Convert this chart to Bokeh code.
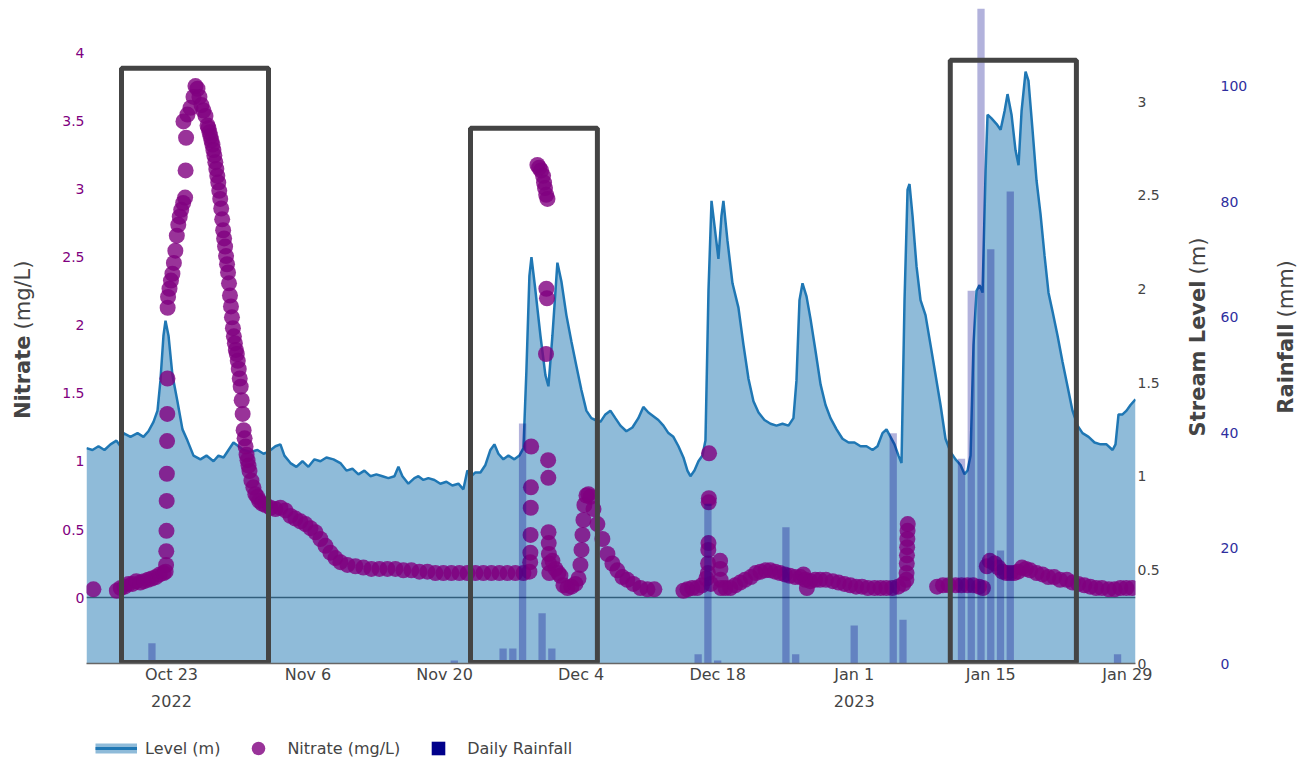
import pandas as pd
from bokeh.plotting import figure
from bokeh.layouts import column
from bokeh.models import (Range1d, LinearAxis, FixedTicker, Span, Legend,
                          LegendItem, Label, ColumnDataSource)
from bokeh.embed import file_html
from bokeh.resources import INLINE

FONT = "DejaVu Sans"
T0 = pd.Timestamp("2022-10-14")          # day 0 of the day-offset arrays
DAY_MS = 86400000.0

# ---------------- data ----------------
# stream level, days since T0 / metres
level_day = [0.29, 0.90, 1.52, 2.13, 2.75, 3.36, 3.77, 4.08, 4.80, 5.52,
             6.13, 6.64, 7.16, 7.57, 7.87, 8.18, 8.39, 8.70, 9.10, 9.61,
             10.13, 10.64, 11.26, 11.97, 12.59, 13.31, 13.82, 14.34, 14.85, 15.36,
             15.87, 16.39, 17.10, 17.82, 18.44, 18.94, 19.66, 20.17, 20.58, 21.20,
             21.81, 22.43, 23.04, 23.66, 24.27, 24.89, 25.61, 26.32, 26.94, 27.55,
             28.17, 28.78, 29.40, 30.01, 30.63, 31.24, 31.86, 32.27, 32.68, 33.29,
             33.91, 34.32, 34.83, 35.34, 35.96, 36.57, 37.19, 37.80, 38.42, 38.93,
             39.34, 39.75, 40.16, 40.68, 41.19, 41.70, 42.11, 42.52, 43.03, 43.55,
             44.16, 44.67, 45.09, 45.39, 45.70, 45.91, 46.32, 46.83, 47.34, 47.65,
             48.06, 48.57, 48.98, 49.49, 50.00, 50.51, 51.03, 51.54, 52.05, 52.46,
             52.98, 53.49, 54.00, 54.51, 55.03, 55.64, 56.26, 56.87, 57.38, 57.90,
             58.41, 58.92, 59.44, 59.95, 60.46, 60.98, 61.49, 61.90, 62.21, 62.62,
             63.03, 63.44, 63.75, 64.06, 64.37, 64.67, 65.08, 65.39, 65.59, 66.00,
             66.52, 67.13, 67.65, 68.16, 68.67, 69.19, 69.80, 70.42, 71.03, 71.65,
             72.26, 72.77, 73.08, 73.39, 73.70, 74.11, 74.52, 75.03, 75.55, 76.06,
             76.57, 77.19, 77.80, 78.42, 79.03, 79.65, 80.26, 80.88, 81.39, 81.90,
             82.31, 82.72, 83.13, 83.54, 83.85, 84.16, 84.47, 84.67, 84.98, 85.39,
             85.80, 86.31, 86.83, 87.34, 87.85, 88.36, 88.87, 89.39, 89.90, 90.31,
             90.62, 90.93, 91.23, 91.54, 91.85, 92.16, 92.47, 92.67, 93.08, 93.60,
             94.01, 94.42, 94.72, 95.13, 95.54, 95.85, 96.16, 96.57, 96.87, 97.28,
             97.69, 98.10, 98.51, 98.92, 99.33, 99.85, 100.36, 100.87, 101.38, 101.90,
             102.41, 103.03, 103.64, 104.26, 104.87, 105.49, 105.79, 106.10, 106.51, 106.92,
             107.33, 107.84]
level_m = [1.15, 1.14, 1.16, 1.14, 1.17, 1.19, 1.16, 1.23, 1.21, 1.23,
           1.21, 1.24, 1.29, 1.35, 1.51, 1.75, 1.83, 1.75, 1.54, 1.40,
           1.25, 1.19, 1.11, 1.09, 1.11, 1.08, 1.11, 1.10, 1.14, 1.18,
           1.16, 1.14, 1.13, 1.14, 1.12, 1.13, 1.16, 1.17, 1.11, 1.07,
           1.05, 1.08, 1.05, 1.09, 1.08, 1.10, 1.09, 1.07, 1.03, 1.04,
           1.01, 1.03, 1.00, 1.01, 1.00, 0.99, 1.00, 1.05, 1.00, 0.96,
           0.99, 1.00, 0.98, 0.99, 0.98, 0.96, 0.97, 0.95, 0.96, 0.93,
           1.03, 1.00, 1.02, 1.02, 1.06, 1.14, 1.17, 1.12, 1.09, 1.11,
           1.09, 1.11, 1.15, 1.56, 2.07, 2.17, 1.99, 1.75, 1.54, 1.48,
           1.75, 2.14, 2.04, 1.86, 1.72, 1.59, 1.46, 1.35, 1.31, 1.30,
           1.29, 1.33, 1.35, 1.31, 1.27, 1.24, 1.26, 1.31, 1.37, 1.34,
           1.32, 1.30, 1.27, 1.23, 1.21, 1.16, 1.10, 1.03, 1.00, 1.03,
           1.08, 1.11, 1.19, 1.99, 2.47, 2.34, 2.16, 2.39, 2.47, 2.26,
           2.03, 1.90, 1.70, 1.52, 1.40, 1.34, 1.30, 1.28, 1.27, 1.28,
           1.27, 1.31, 1.51, 1.94, 2.03, 1.96, 1.84, 1.67, 1.49, 1.38,
           1.31, 1.25, 1.20, 1.18, 1.18, 1.16, 1.16, 1.14, 1.16, 1.23,
           1.25, 1.21, 1.17, 1.11, 1.07, 1.94, 2.53, 2.56, 2.39, 2.12,
           1.94, 1.86, 1.70, 1.54, 1.38, 1.20, 1.13, 1.09, 1.06, 1.01,
           1.03, 1.11, 1.70, 1.99, 2.02, 1.98, 2.63, 2.93, 2.91, 2.88,
           2.85, 2.95, 3.04, 2.93, 2.74, 2.66, 2.95, 3.16, 3.11, 2.85,
           2.58, 2.40, 2.18, 1.98, 1.88, 1.75, 1.61, 1.48, 1.35, 1.27,
           1.23, 1.21, 1.18, 1.17, 1.17, 1.14, 1.17, 1.33, 1.33, 1.35,
           1.38, 1.41]

# nitrate, days since T0 / mg/L
nitrate_day = [
    1.00,
    3.40, 3.80, 4.20, 4.60, 5.00, 5.40, 5.80, 6.20, 6.60, 7.00, 7.40, 7.80, 8.20, 8.40,
    8.45, 8.47, 8.49, 8.51, 8.53, 8.55, 8.57, 8.59, 8.61,
    8.65, 8.80, 8.95, 9.10, 9.25, 9.40, 9.55, 9.70, 9.85, 10.00, 10.20, 10.40, 10.45, 10.50,
    10.23, 10.64, 10.95, 11.26, 11.46, 11.67, 11.87, 12.08, 12.28, 12.49,
    12.7, 12.8, 12.9, 13.0, 13.1, 13.2, 13.3, 13.4, 13.5, 13.6,
    13.7, 13.8, 13.9, 14.0, 14.1, 14.2, 14.3, 14.4, 14.5, 14.6,
    14.7, 14.8, 14.9, 15.0, 15.1, 15.2, 15.3, 15.4, 15.5, 15.6,
    15.7, 15.8, 15.9, 16.0, 16.1, 16.2, 16.3, 16.4, 16.5, 16.6,
    16.7, 16.8, 16.9, 17.0, 17.2, 17.4, 17.6, 17.8, 18.0, 18.3,
    18.64, 19.15, 19.66, 20.17, 20.69, 21.20, 21.71, 22.22, 22.74, 23.25,
    23.76, 24.27, 24.79, 25.30, 25.81, 26.32, 27.04, 27.86, 28.68, 29.50,
    30.32, 31.14, 31.96, 32.78, 33.60, 34.42, 35.24, 36.06, 36.88, 37.70,
    38.52, 39.34, 40.16, 40.98, 41.80, 42.62, 43.44, 44.26, 45.09, 45.70,
    45.78, 45.80, 45.82, 45.84, 45.86, 45.88,
    46.52, 46.70, 46.90, 47.10, 47.20, 47.30, 47.42, 47.55,
    47.44, 47.50, 47.40,
    47.62, 47.64, 47.66, 47.68, 47.70, 47.72, 47.74,
    48.06, 48.37, 48.67, 48.88, 49.19, 49.60, 50.01, 50.42, 50.73, 50.93,
    51.04, 51.14, 51.24, 51.34, 51.55, 51.75, 51.96, 52.27, 52.67, 53.18,
    53.70, 54.21, 54.72, 55.23, 55.74, 56.36, 57.08, 57.80, 58.51,
    61.49, 61.90, 62.40, 62.90, 63.40, 63.84,
    64.00, 64.02, 64.04, 64.06, 64.08, 64.10, 64.12, 64.30,
    65.25, 65.28, 65.31, 65.34,
    65.80, 66.30, 66.80, 67.30, 67.80, 68.40, 68.90, 69.40, 69.90, 70.40,
    70.90, 71.40, 71.90, 72.40, 72.97, 73.50, 73.80, 74.00, 74.15, 74.50,
    75.00, 75.50, 76.10, 76.80, 77.40, 78.00, 78.60, 79.20, 79.80, 80.40,
    81.10, 81.70, 82.30, 82.90, 83.50, 84.04,
    84.35, 84.37, 84.39, 84.41, 84.43, 84.45, 84.47, 84.49,
    87.50, 88.10, 88.70, 89.40, 90.00, 90.60, 91.20, 91.80, 92.20,
    92.60, 92.90, 93.40, 93.80, 94.20, 94.60, 95.00, 95.40, 95.80, 96.20,
    96.60, 97.05, 97.70, 98.30, 98.90, 99.50, 100.10, 100.80, 101.40, 101.97,
    102.60, 103.20, 103.80, 104.40, 105.10, 105.70, 106.30, 106.90, 107.50]
nitrate_mgl = [
    0.06,
    0.05, 0.07, 0.08, 0.10, 0.10, 0.12, 0.11, 0.12, 0.13, 0.14, 0.15, 0.17, 0.18, 0.19,
    0.24, 0.34, 0.49, 0.71, 0.91, 1.15, 1.35, 1.61, 2.13,
    2.21, 2.27, 2.33, 2.38, 2.46, 2.55, 2.66, 2.74, 2.80, 2.85, 2.90, 2.94, 3.14, 3.38,
    3.50, 3.55, 3.60, 3.68, 3.76, 3.74, 3.68, 3.62, 3.58, 3.54,
    3.47, 3.45, 3.42, 3.39, 3.36, 3.33, 3.29, 3.25, 3.20, 3.15,
    3.10, 3.05, 2.99, 2.93, 2.86, 2.78, 2.70, 2.64, 2.58, 2.51,
    2.45, 2.39, 2.31, 2.22, 2.14, 2.06, 1.98, 1.92, 1.87, 1.82,
    1.79, 1.74, 1.68, 1.61, 1.55, 1.45, 1.35, 1.23, 1.17, 1.11,
    1.05, 1.01, 0.97, 0.93, 0.86, 0.81, 0.76, 0.74, 0.71, 0.69,
    0.68, 0.66, 0.65, 0.66, 0.64, 0.60, 0.58, 0.56, 0.54, 0.51,
    0.48, 0.43, 0.38, 0.33, 0.29, 0.26, 0.24, 0.23, 0.22, 0.21,
    0.21, 0.21, 0.21, 0.20, 0.20, 0.19, 0.19, 0.18, 0.18, 0.18,
    0.18, 0.18, 0.18, 0.18, 0.18, 0.18, 0.18, 0.18, 0.18, 0.19,
    0.26, 0.33, 0.46, 0.66, 0.81, 1.11,
    3.18, 3.16, 3.14, 3.10, 3.05, 3.01, 2.96, 2.93,
    2.27, 2.20, 1.79,
    1.01, 0.88, 0.48, 0.40, 0.32, 0.25, 0.18,
    0.27, 0.21, 0.18, 0.16, 0.09, 0.07, 0.08, 0.10, 0.14, 0.24,
    0.35, 0.46, 0.57, 0.68, 0.75, 0.76, 0.74, 0.65, 0.54, 0.43,
    0.32, 0.25, 0.20, 0.15, 0.13, 0.10, 0.07, 0.06, 0.06,
    0.05, 0.06, 0.07, 0.07, 0.09, 0.14,
    0.18, 0.25, 0.35, 0.40, 0.70, 0.73, 1.06, 0.10,
    0.27, 0.21, 0.13, 0.07,
    0.07, 0.07, 0.09, 0.11, 0.13, 0.15, 0.18, 0.19, 0.20, 0.20,
    0.19, 0.18, 0.17, 0.16, 0.15, 0.15, 0.17, 0.13, 0.07, 0.12,
    0.13, 0.13, 0.13, 0.12, 0.11, 0.10, 0.09, 0.08, 0.08, 0.07,
    0.07, 0.07, 0.07, 0.07, 0.08, 0.10,
    0.13, 0.18, 0.25, 0.31, 0.37, 0.43, 0.49, 0.54,
    0.08, 0.09, 0.09, 0.09, 0.09, 0.09, 0.09, 0.08, 0.07,
    0.23, 0.27, 0.25, 0.22, 0.19, 0.18, 0.18, 0.18, 0.19, 0.22,
    0.21, 0.20, 0.18, 0.17, 0.15, 0.15, 0.13, 0.13, 0.11, 0.10,
    0.09, 0.08, 0.07, 0.07, 0.06, 0.06, 0.07, 0.07, 0.07]

# daily rainfall (mm)
rain_date = ["2022-10-21", "2022-10-27", "2022-11-21", "2022-11-26", "2022-11-27",
             "2022-11-28", "2022-11-30", "2022-12-01", "2022-12-16", "2022-12-17",
             "2022-12-18", "2022-12-25", "2022-12-26", "2023-01-01", "2023-01-05",
             "2023-01-06", "2023-01-12", "2023-01-13", "2023-01-14", "2023-01-15",
             "2023-01-16", "2023-01-17", "2023-01-28"]
rain_mm = [3.5, 0.5, 0.5, 2.6, 2.6,
           41.6, 8.7, 2.6, 1.6, 27.7,
           0.5, 23.6, 1.6, 6.6, 39.9,
           7.6, 35.5, 64.6, 116.0, 71.8,
           19.6, 81.8, 1.6]

# highlighted events (days since T0, top in mg/L of nitrate axis)
box_start_day = [3.88, 39.66, 88.85]
box_end_day = [18.95, 52.67, 101.78]
box_top_mgl = [3.89, 3.45, 3.95]

# axes
x_range_day = [0.29, 107.84]
nitrate_range = [-0.485, 4.33]
level_range = [0, 3.497]
rain_range = [0, 113.5]
date_ticks = ["2022-10-23", "2022-11-06", "2022-11-20", "2022-12-04",
              "2022-12-18", "2023-01-01", "2023-01-15", "2023-01-29"]
date_tick_labels = ["Oct 23\n2022", "Nov 6", "Nov 20", "Dec 4",
                    "Dec 18", "Jan 1\n2023", "Jan 15", "Jan 29"]
nitrate_ticks = [0, 0.5, 1, 1.5, 2, 2.5, 3, 3.5, 4]
level_ticks = [0, 0.5, 1, 1.5, 2, 2.5, 3]
rain_ticks = [0, 20, 40, 60, 80, 100]


def days_ms(days):
    return [(T0 + pd.Timedelta(days=d)).value / 1e6 for d in days]


def dates_ms(dates):
    return [pd.Timestamp(d).value / 1e6 for d in dates]


def num_label(v):
    return f"{v:g}"


xr = days_ms(x_range_day)
p = figure(frame_width=1049, frame_height=655, x_axis_type="datetime",
           x_range=Range1d(xr[0], xr[1]),
           y_range=Range1d(*nitrate_range),
           output_backend="svg", toolbar_location=None, title=None,
           min_border_left=86, min_border_right=165,
           min_border_top=8, min_border_bottom=68)
p.extra_y_ranges = {"level": Range1d(*level_range), "rain": Range1d(*rain_range)}
p.background_fill_color = "white"
p.border_fill_color = "white"
p.outline_line_color = None
p.xgrid.visible = False
p.ygrid.visible = False

# zero line of the nitrate axis (under everything)
p.add_layout(Span(location=0, dimension="width", line_color="#444444",
                  line_width=1.5, level="underlay"))

# stream level area + line
lvl = ColumnDataSource(dict(x=days_ms(level_day), y=level_m))
p.varea(x="x", y1=0, y2="y", source=lvl, fill_color="#1f77b4", fill_alpha=0.5,
        y_range_name="level")
p.line(x="x", y="y", source=lvl, line_color="#1f77b4", line_width=2.5,
       y_range_name="level")

# nitrate points
p.scatter(x=days_ms(nitrate_day), y=nitrate_mgl, size=16, marker="circle",
          fill_color="#800080", fill_alpha=0.8, line_color=None)

# rainfall bars
p.vbar(x=dates_ms(rain_date), top=rain_mm, bottom=0, width=0.75 * DAY_MS,
       fill_color="#00008B", fill_alpha=0.3, line_color=None,
       y_range_name="rain")

# event rectangles
p.quad(left=days_ms(box_start_day), right=days_ms(box_end_day),
       bottom=nitrate_range[0] + 0.007, top=box_top_mgl,
       fill_color=None, line_color="#444444", line_width=5)

# ---- axes ----
xa = p.xaxis[0]
xa.ticker = FixedTicker(ticks=dates_ms(date_ticks))
xa.major_label_overrides = {t: s for t, s in zip(dates_ms(date_ticks), date_tick_labels)}
xa.major_label_text_font = FONT
xa.major_label_text_font_size = "16px"
xa.major_label_text_color = "#444444"
xa.major_label_text_line_height = 1.45
xa.major_label_standoff = 1
xa.major_tick_out = 0
xa.major_tick_line_color = None
xa.minor_tick_line_color = None
xa.axis_line_color = "#666666"
xa.axis_line_width = 1.5

ya = p.yaxis[0]
ya.ticker = FixedTicker(ticks=nitrate_ticks)
ya.major_label_overrides = {v: num_label(v) for v in nitrate_ticks}
ya.major_label_text_font = FONT
ya.major_label_text_font_size = "14px"
ya.major_label_text_color = "#800080"
ya.major_label_standoff = 2
ya.major_tick_out = 0
ya.major_tick_line_color = None
ya.minor_tick_line_color = None
ya.axis_line_color = None


def add_title(place, x, y, text, style, align):
    lab = Label(x=x, y=y, text=text, angle=90, angle_units="deg",
                text_align=align, text_baseline="middle",
                text_font=FONT, text_font_size="21px",
                text_font_style=style, text_color="#444444")
    try:
        lab.x_units = "canvas"
        lab.y_units = "canvas"
    except Exception:
        lab.x_units = "screen"
        lab.y_units = "screen"
    p.add_layout(lab, place)


# left title (bold name + regular unit), in canvas pixels
add_title("left", 22, 335, "Nitrate", "bold", "right")
add_title("left", 22, 329, "(mg/L)", "normal", "left")

level_axis = LinearAxis(y_range_name="level", ticker=FixedTicker(ticks=level_ticks),
                        major_label_overrides={v: num_label(v) for v in level_ticks},
                        major_label_text_font=FONT, major_label_text_font_size="14px",
                        major_label_text_color="#444444", major_label_standoff=2,
                        major_tick_out=0,
                        major_tick_line_color=None, minor_tick_line_color=None,
                        axis_line_color=None)
p.add_layout(level_axis, "right")
add_title("right", 1197, 280, "Stream Level", "bold", "right")
add_title("right", 1197, 274, "(m)", "normal", "left")

rain_axis = LinearAxis(y_range_name="rain", ticker=FixedTicker(ticks=rain_ticks),
                       major_label_text_font=FONT, major_label_text_font_size="14px",
                       major_label_text_color="#2e2e9e", major_label_standoff=10,
                       major_tick_out=0,
                       major_tick_line_color=None, minor_tick_line_color=None,
                       axis_line_color=None)
p.add_layout(rain_axis, "right")
add_title("right", 1285, 323, "Rainfall", "bold", "right")
add_title("right", 1285, 317, "(mm)", "normal", "left")

# ---- legend: a thin strip figure under the chart ----
lg = figure(width=1300, height=34, x_range=Range1d(0, 1), y_range=Range1d(0, 1),
            x_axis_location=None, y_axis_location=None, title=None,
            output_backend="svg", toolbar_location=None, min_border=0)
lg.outline_line_color = None
lg.xgrid.visible = False
lg.ygrid.visible = False
lg.background_fill_color = "white"
lg.border_fill_color = "white"
# legend swatch renderers: one point each, parked outside the strip's visible range
leg_fill = lg.line(x=[-5, -4], y=[-5, -5], line_color="#8fbbd9", line_width=10)
leg_line = lg.line(x=[-5, -4], y=[-5, -5], line_color="#1f77b4", line_width=3)
leg_nit = lg.scatter(x=[-5], y=[-5], marker="circle", fill_color="#800080",
                     fill_alpha=0.8, line_color=None)
leg_rain = lg.scatter(x=[-5], y=[-5], marker="square", fill_color="#00008B",
                      line_color=None)
legend = Legend(items=[LegendItem(label="Level (m)", renderers=[leg_fill, leg_line]),
                       LegendItem(label="Nitrate (mg/L)", renderers=[leg_nit]),
                       LegendItem(label="Daily Rainfall", renderers=[leg_rain])],
                orientation="horizontal", location=(9, 0),
                glyph_width=42, glyph_height=34, label_height=34,
                padding=0, margin=0, spacing=17, label_standoff=8,
                border_line_color=None, background_fill_alpha=0,
                label_text_font=FONT, label_text_font_size="16px",
                label_text_color="#444444")
lg.add_layout(legend)

open("out.html", "w").write(file_html(column(p, lg), INLINE))
